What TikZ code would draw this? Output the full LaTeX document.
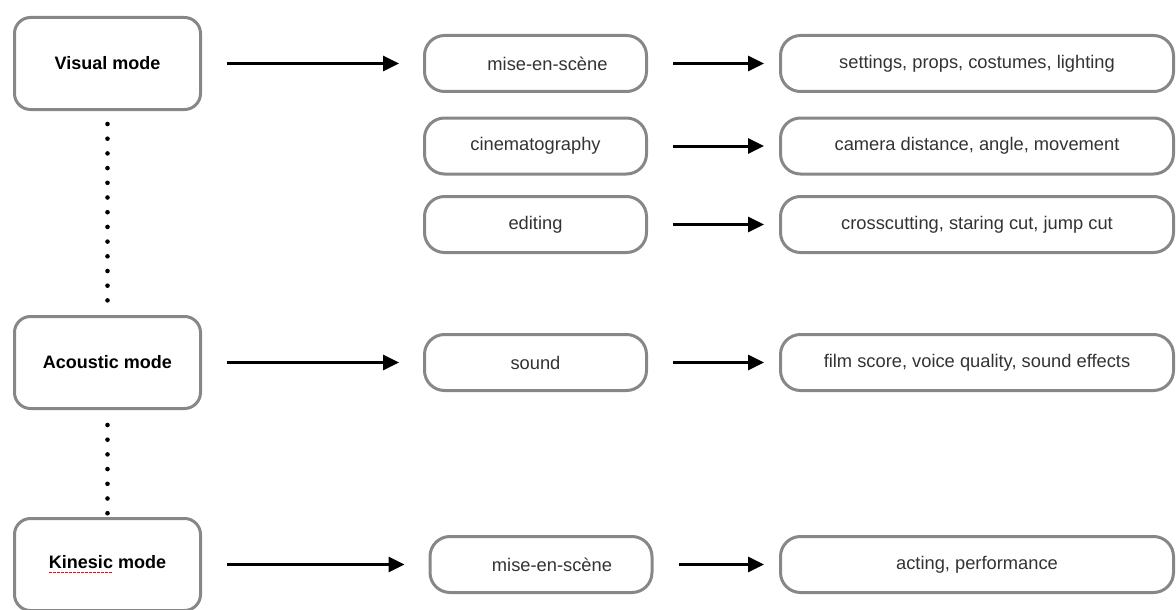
\documentclass[tikz,border=0pt]{standalone}
\usepackage{fontspec}
\setmainfont{Liberation Sans}
\usetikzlibrary{arrows.meta}
\definecolor{boxgray}{HTML}{878787}
\definecolor{txtgray}{HTML}{333333}
\newsavebox\spellbox
\newcommand\spellmark[1]{\sbox\spellbox{#1}\rlap{\color{red}\hbox to\wd\spellbox{\xleaders\hbox{\rule[-0.45ex]{0.14em}{0.09em}\kern0.07em}\hfill}}\usebox\spellbox}
\tikzset{
  modebox/.style={draw=boxgray,line width=3pt,rounded corners=16pt,minimum width=186pt,minimum height=92pt,font=\fontsize{18}{22}\selectfont\bfseries},
  featbox/.style={draw=boxgray,line width=3pt,rounded corners=20pt,minimum height=56pt,text=txtgray,font=\fontsize{18.3}{22}\selectfont},
  midbox/.style={featbox,minimum width=222pt},
  endbox/.style={featbox,minimum width=393pt},
  link/.style={line width=3pt,-{Triangle[length=16pt,width=15pt]}},
  dotlink/.style={line width=4.6pt,line cap=round,dash pattern=on 0pt off 14.7pt}
}
\begin{document}
\begin{tikzpicture}[x=1pt,y=-1pt]
\useasboundingbox (0,0) rectangle (1176,610);
\node[modebox](vis) at (107.5,63.5){Visual mode};
\node[modebox](aco) at (107.5,362.5){Acoustic mode};
\node[modebox](kin) at (107.5,564.5){\spellmark{Kinesic} mode};
\foreach \nm/\xx/\yy/\mtxt/\rtxt in {vis/535.5/63.5/{\hspace*{24pt}mise-en-scène}/{settings, props, costumes, lighting},cin/535.5/146/{cinematography}/{camera distance, angle, movement},edi/535.5/224.5/{editing}/{crosscutting, staring cut, jump cut},aco/535.5/362.5/{sound}/{film score, voice quality, sound effects},kin/541/564.5/{\hspace*{22pt}mise-en-scène}/{acting, performance}}{
\node[midbox](m\nm) at (\xx,\yy){\mtxt};
\node[endbox](r\nm) at (977,\yy){\rtxt};
\draw[link,shorten <=25pt,shorten >=15pt](m\nm.east)--(r\nm.west);
}
\foreach \nm in {vis,aco,kin}{\draw[link,shorten <=25pt,shorten >=24pt](\nm.east)--(m\nm.west);}
\draw[dotlink,shorten <=13pt,shorten >=14pt](vis.south)--(aco.north);
\draw[dotlink,shorten <=15pt,shorten >=3pt](aco.south)--(kin.north);
\end{tikzpicture}
\end{document}
